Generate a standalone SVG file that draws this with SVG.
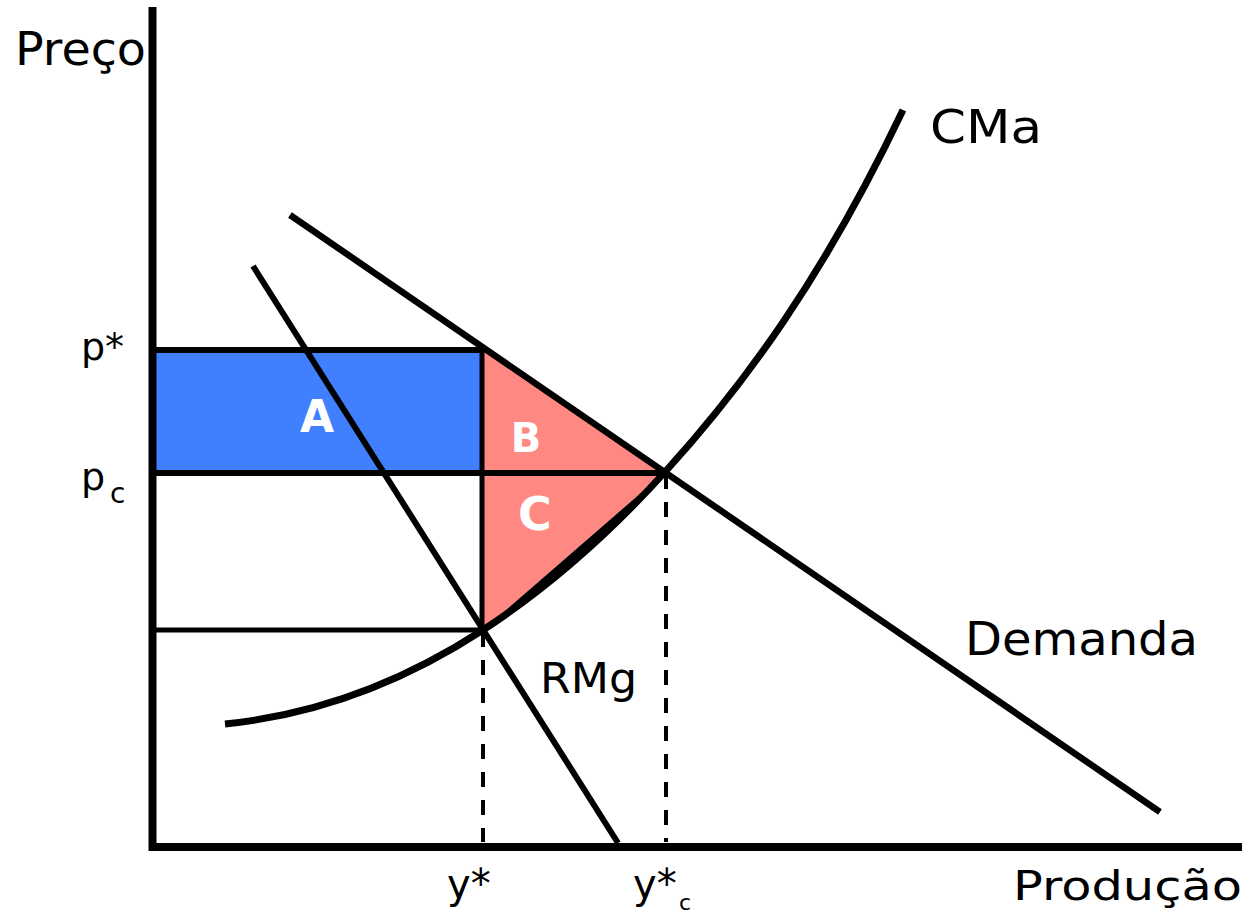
<svg xmlns="http://www.w3.org/2000/svg" width="1248" height="917" viewBox="0 0 1248 917">
<style>
.lbl{font-family:"DejaVu Sans","Liberation Sans",sans-serif;fill:#000}
.big{font-family:"DejaVu Sans","Liberation Sans",sans-serif;font-weight:bold;fill:#fff;text-anchor:middle}
.ln{stroke:#000;fill:none}
.dash{stroke:#000;stroke-width:4;stroke-dasharray:15 13;fill:none}
</style>
<rect x="0" y="0" width="1248" height="917" fill="#fff"/>
<g id="areaA">
<rect x="155" y="350" width="328" height="123" fill="#4080FF"/>
<text class="big" x="317" y="432" font-size="44">A</text>
</g>
<g id="areaB">
<polygon points="483,350 665,472 483,472" fill="#FF8882"/>
<text class="big" x="526" y="452" font-size="40">B</text>
</g>
<g id="areaC">
<polygon points="483,472 665,472 483,630" fill="#FF8882"/>
<text class="big" x="535" y="530" font-size="46">C</text>
</g>
<g id="connectors">
<line class="ln" x1="155" y1="350" x2="483" y2="350" stroke-width="6"/>
<line class="ln" x1="155" y1="473" x2="665" y2="473" stroke-width="6"/>
<line class="ln" x1="155" y1="630" x2="483" y2="630" stroke-width="5"/>
<line class="ln" x1="482" y1="350" x2="482" y2="630" stroke-width="5"/>
<line class="dash" x1="483" y1="632" x2="483" y2="842"/>
<line class="dash" x1="666" y1="474" x2="666" y2="842"/>
<line class="ln" x1="290" y1="215" x2="1160" y2="812" stroke-width="6.5"/>
<line class="ln" x1="253" y1="266" x2="618" y2="843" stroke-width="6"/>
<path d="M483,630 C543.7,590.5 604.3,538.8 665,472 L483,630 Z" fill="#000"/>
<path class="ln" stroke-width="7" d="M225,724 C311,715.4 397,685.9 483,630 C543.7,590.5 604.3,538.8 665,472 C744.3,384.8 823.7,276.5 903,110"/>
<line class="ln" x1="152.5" y1="7" x2="152.5" y2="851" stroke-width="8"/>
<line class="ln" x1="149" y1="847" x2="1242" y2="847" stroke-width="8"/>
</g>
<g id="labels">
<text class="lbl" x="15" y="65" font-size="46" textLength="131" lengthAdjust="spacingAndGlyphs">Preço</text>
<text class="lbl" x="930" y="143" font-size="46" textLength="112" lengthAdjust="spacingAndGlyphs">CMa</text>
<text class="lbl" x="965" y="655" font-size="46" textLength="233" lengthAdjust="spacingAndGlyphs">Demanda</text>
<text class="lbl" x="540" y="693" font-size="43" textLength="97" lengthAdjust="spacingAndGlyphs">RMg</text>
<text class="lbl" x="1013" y="900" font-size="40" textLength="229" lengthAdjust="spacingAndGlyphs">Produção</text>
<text class="lbl" x="81" y="360" font-size="38">p*</text>
<text class="lbl" x="81" y="490" font-size="38">p<tspan x="110" y="503" font-size="28">c</tspan></text>
<text class="lbl" x="447" y="898" font-size="40">y*</text>
<text class="lbl" x="633" y="898" font-size="40">y*</text>
<text class="lbl" x="679" y="910" font-size="22">c</text>
</g>
</svg>
